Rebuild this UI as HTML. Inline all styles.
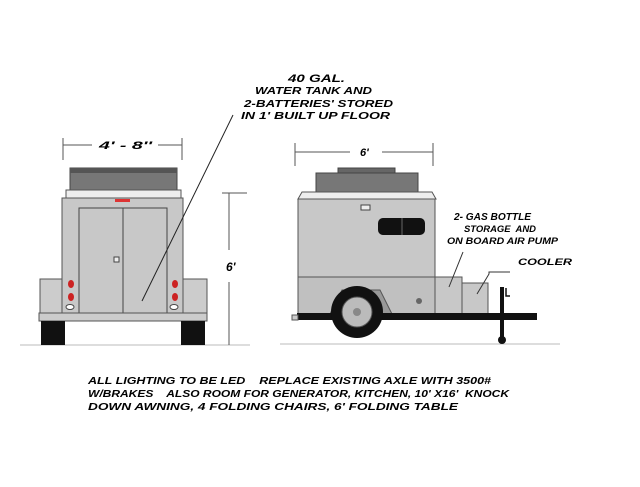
<!DOCTYPE html>
<html><head><style>body{margin:0;background:#fff}svg{display:block}text{white-space:pre}</style></head><body>
<svg width="640" height="487" viewBox="0 0 640 487" xmlns="http://www.w3.org/2000/svg" xml:space="preserve" font-family="Liberation Sans, sans-serif" font-weight="bold" font-style="italic">
<rect width="640" height="487" fill="#fff"/>
<line x1="20" y1="345" x2="250" y2="345" stroke="#bbb" stroke-width="1"/>
<line x1="280" y1="344" x2="560" y2="344" stroke="#bbb" stroke-width="1"/>
<line x1="63" y1="138" x2="63" y2="160" stroke="#555"/><line x1="182" y1="138" x2="182" y2="160" stroke="#555"/>
<line x1="63" y1="145" x2="92" y2="145" stroke="#555"/><line x1="158" y1="145" x2="182" y2="145" stroke="#555"/>
<text x="99" y="149" font-size="11" textLength="53" lengthAdjust="spacingAndGlyphs">4' - 8''</text>
<rect x="70" y="168" width="107" height="23" fill="#777" stroke="#444"/>
<rect x="70" y="168" width="107" height="5" fill="#555"/>
<rect x="66" y="190" width="115" height="9" fill="#eee" stroke="#555"/>
<rect x="40" y="279" width="167" height="35" fill="#ccc" stroke="#555"/>
<rect x="62" y="198" width="121" height="116" fill="#c8c8c8" stroke="#555"/>
<rect x="79" y="208" width="88" height="106" fill="#c8c8c8" stroke="#444"/>
<line x1="123" y1="208" x2="123" y2="314" stroke="#444"/>
<rect x="114" y="257" width="5" height="5" fill="#eee" stroke="#444"/>
<rect x="115" y="199" width="15" height="3" fill="#d33"/>
<ellipse cx="71" cy="284" rx="3" ry="4" fill="#c22"/><ellipse cx="71" cy="297" rx="3" ry="4" fill="#c22"/><ellipse cx="70" cy="307" rx="4" ry="2.5" fill="#fff" stroke="#444"/>
<ellipse cx="175" cy="284" rx="3" ry="4" fill="#c22"/><ellipse cx="175" cy="297" rx="3" ry="4" fill="#c22"/><ellipse cx="174" cy="307" rx="4" ry="2.5" fill="#fff" stroke="#444"/>
<rect x="39" y="313" width="168" height="8" fill="#ccc" stroke="#555"/>
<rect x="41" y="321" width="24" height="24" fill="#111"/><rect x="181" y="321" width="24" height="24" fill="#111"/>
<line x1="222" y1="193" x2="247" y2="193" stroke="#555"/>
<line x1="229" y1="193" x2="229" y2="250" stroke="#555"/><line x1="229" y1="282" x2="229" y2="345" stroke="#555"/>
<text x="226" y="271" font-size="12">6'</text>
<line x1="142" y1="301" x2="233" y2="115" stroke="#222"/>
<text x="288" y="82" font-size="11" textLength="57" lengthAdjust="spacingAndGlyphs">40 GAL.</text>
<text x="255" y="94" font-size="10" textLength="117" lengthAdjust="spacingAndGlyphs">WATER TANK AND</text>
<text x="244" y="107" font-size="10" textLength="149" lengthAdjust="spacingAndGlyphs">2-BATTERIES' STORED</text>
<text x="241" y="119" font-size="10" textLength="149" lengthAdjust="spacingAndGlyphs">IN 1' BUILT UP FLOOR</text>
<line x1="295" y1="143" x2="295" y2="166" stroke="#555"/><line x1="433" y1="143" x2="433" y2="166" stroke="#555"/>
<line x1="295" y1="152" x2="350" y2="152" stroke="#555"/><line x1="382" y1="152" x2="433" y2="152" stroke="#555"/>
<text x="360" y="156" font-size="11">6'</text>
<rect x="338" y="168" width="57" height="6" fill="#666" stroke="#444"/>
<rect x="316" y="173" width="102" height="21" fill="#777" stroke="#444"/>
<polygon points="298,199 302,192 432,192 436,199" fill="#eee" stroke="#555"/>
<rect x="298" y="199" width="137" height="115" fill="#c8c8c8" stroke="#555"/>
<rect x="298" y="277" width="137" height="37" fill="#c0c0c0" stroke="#555"/>
<rect x="361" y="205" width="9" height="5" fill="#eee" stroke="#444"/>
<rect x="378" y="218" width="47" height="17" rx="5" fill="#111"/>
<line x1="402" y1="218" x2="402" y2="235" stroke="#666"/>
<rect x="435" y="277" width="27" height="37" fill="#c8c8c8" stroke="#555"/>
<rect x="462" y="283" width="26" height="31" fill="#c8c8c8" stroke="#555"/>
<circle cx="419" cy="301" r="3" fill="#666"/>
<polygon points="330,314 342,290 380,290 392,314" fill="#999" stroke="#555"/>
<rect x="297" y="313" width="240" height="7" fill="#111"/>
<rect x="292" y="315" width="6" height="5" fill="#ccc" stroke="#555"/>
<circle cx="357" cy="312" r="26" fill="#111"/>
<circle cx="357" cy="312" r="15" fill="#bbb" stroke="#555"/>
<circle cx="357" cy="312" r="4" fill="#888"/>
<line x1="502" y1="287" x2="502" y2="338" stroke="#111" stroke-width="4"/>
<circle cx="502" cy="340" r="4" fill="#111"/>
<path d="M506 288 L506 296 L510 296" stroke="#111" fill="none" stroke-width="1.5"/>
<text x="454" y="220" font-size="10" textLength="77" lengthAdjust="spacingAndGlyphs">2- GAS BOTTLE</text>
<text x="464" y="232" font-size="9" textLength="72" lengthAdjust="spacingAndGlyphs">STORAGE  AND</text>
<text x="447" y="244" font-size="9" textLength="111" lengthAdjust="spacingAndGlyphs">ON BOARD AIR PUMP</text>
<text x="518" y="265" font-size="9" textLength="54" lengthAdjust="spacingAndGlyphs">COOLER</text>
<line x1="463" y1="252" x2="449" y2="287" stroke="#333"/>
<polyline points="510,272 489,272 489,274 477,294" stroke="#333" fill="none"/>
<text x="88" y="384" font-size="10" textLength="403" lengthAdjust="spacingAndGlyphs">ALL LIGHTING TO BE LED    REPLACE EXISTING AXLE WITH 3500#</text>
<text x="88" y="397" font-size="10" textLength="421" lengthAdjust="spacingAndGlyphs">W/BRAKES    ALSO ROOM FOR GENERATOR, KITCHEN, 10' X16'  KNOCK</text>
<text x="88" y="410" font-size="10" textLength="370" lengthAdjust="spacingAndGlyphs">DOWN AWNING, 4 FOLDING CHAIRS, 6' FOLDING TABLE</text>
</svg>
</body></html>
